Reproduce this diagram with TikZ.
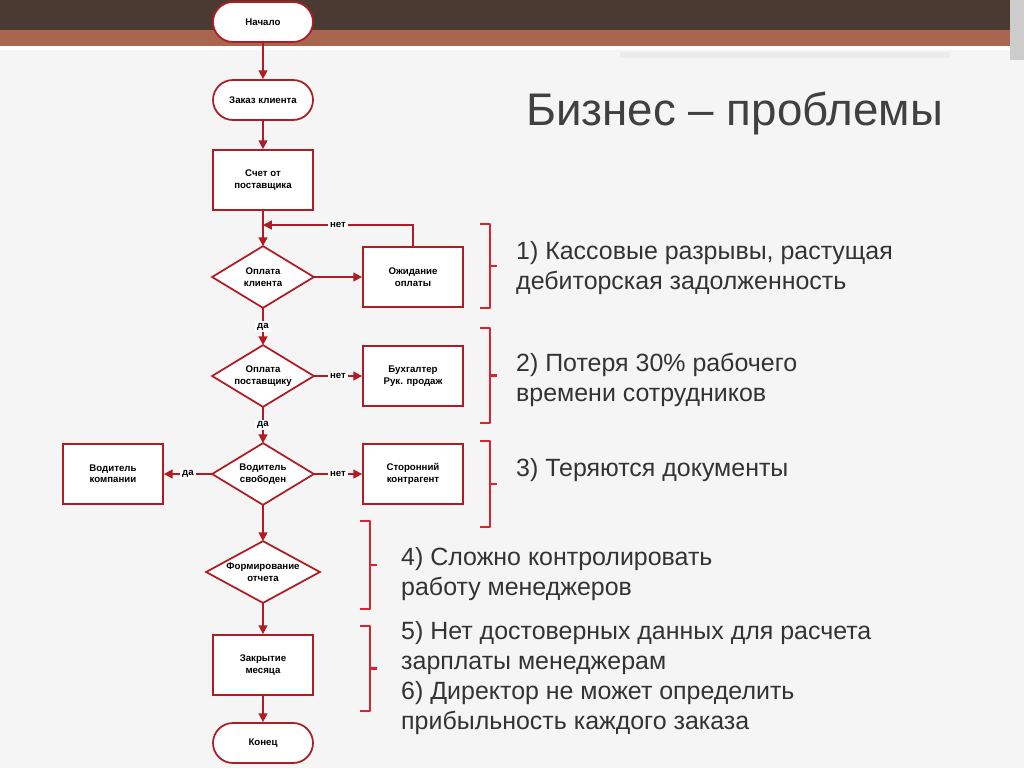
\documentclass[tikz,border=0pt]{standalone}
\usepackage{fontspec}
\setmainfont{Liberation Sans}
\usetikzlibrary{arrows.meta,backgrounds}
\definecolor{flowred}{HTML}{B01C24}
\definecolor{bracered}{HTML}{D9232E}
\definecolor{bandbrown}{HTML}{4B3A31}
\definecolor{bandred}{HTML}{A9654F}
\tikzset{
  box/.style={draw=flowred,line width=1pt,fill=white,minimum width=2cm,minimum height=1.2cm,align=center,font=\fontsize{5.5}{6.5}\selectfont\bfseries},
  term/.style={box,rounded corners=0.4cm,minimum height=0.8cm},
  choice/.style={box,draw=none,fill=none,inner sep=0pt},
  flow/.style={draw=flowred,line width=1pt,-{Triangle[length=5pt,width=5pt]}},
  lbl/.style={font=\fontsize{5.5}{6.5}\selectfont\bfseries,fill=white,inner sep=1pt},
  issue/.style={anchor=west,align=left,font=\fontsize{14.2}{17}\selectfont,text=black!80},
  brace/.style={draw=bracered,line width=1.6pt,line join=round}
}
\newcommand{\issuebrace}[3]{% x, top, bottom
  \draw[brace] (#1-10,#2) -- (#1,#2) -- (#1,#3) -- (#1-10,#3);
  \draw[brace] (#1,{(#2+#3)/2}) -- (#1+7,{(#2+#3)/2});
}
\begin{document}
\begin{tikzpicture}[x=0.02cm,y=-0.02cm]
  % slide background
  \begin{scope}[on background layer]
  \fill[gray!8] (0,0) rectangle (1024,768);
  \fill[bandbrown] (0,0) rectangle (1024,30);
  \fill[bandred] (0,30) rectangle (1010,46);
  \fill[white] (0,46) rectangle (1010,50);
  \fill[white!85!gray] (620,52) rectangle (950,58);
  \fill[gray!40] (1010,0) rectangle (1024,60);
  \end{scope}
  \node[anchor=west,font=\fontsize{26}{30}\selectfont,text=black!75] (title) at (520,113) {Бизнес – проблемы};

  % flow chart
  \node[term] (start) at (263,22) {Начало};
  \node[term] (order) at (263,100) {Заказ клиента};
  \node[box] (invoice) at (263,180) {Счет от\\поставщика};
  \node[choice] (paycl) at (263,277) {Оплата\\клиента};
  \node[box] (wait) at (413,277) {Ожидание\\оплаты};
  \node[choice] (paysup) at (263,376) {Оплата\\поставщику};
  \node[box] (acct) at (413,376) {Бухгалтер\\Рук. продаж};
  \node[choice] (driver) at (263,474) {Водитель\\свободен};
  \node[box] (ext) at (413,474) {Сторонний\\контрагент};
  \node[box] (own) at (113,474) {Водитель\\компании};
  \node[choice,minimum width=2.24cm] (report) at (263,572) {Формирование\\отчета};
  \node[box] (close) at (263,665) {Закрытие\\месяца};
  \node[term] (finish) at (263,743) {Конец};
  \coordinate (loop) at (263,225);
  \begin{scope}[on background layer]
  \foreach \d in {paycl,paysup,driver,report}
    \draw[draw=flowred,line width=1pt,fill=white] (\d.north) -- (\d.east) -- (\d.south) -- (\d.west) -- cycle;
  \end{scope}

  \draw[flow] (start) -- (order);
  \draw[flow] (order) -- (invoice);
  \draw[flow] (invoice) -- (paycl);
  \draw[flow] (paycl) -- (wait);
  \draw[flow] (wait.north) |- node[lbl,pos=0.75] {нет} (loop);
  \draw[flow] (paycl) -- node[lbl] {да} (paysup);
  \draw[flow] (paysup) -- node[lbl] {нет} (acct);
  \draw[flow] (paysup) -- node[lbl] {да} (driver);
  \draw[flow] (driver) -- node[lbl] {нет} (ext);
  \draw[flow] (driver) -- node[lbl] {да} (own);
  \draw[flow] (driver) -- (report);
  \draw[flow] (report) -- (close);
  \draw[flow] (close) -- (finish);

  % problems
  \issuebrace{490}{224}{308}
  \issuebrace{490}{328}{423}
  \issuebrace{490}{441}{527}
  \issuebrace{370}{521}{609}
  \issuebrace{370}{626}{711}
  \node[issue] (p1) at (510,268) {1) Кассовые разрывы, растущая\\дебиторская задолженность};
  \node[issue] (p2) at (510,380) {2) Потеря 30\% рабочего\\времени сотрудников};
  \node[issue] (p3) at (510,470) {3) Теряются документы};
  \node[issue] (p4) at (395,574) {4) Сложно контролировать\\работу менеджеров};
  \node[issue] (p5) at (395,678) {5) Нет достоверных данных для расчета\\зарплаты менеджерам\\6) Директор не может определить\\прибыльность каждого заказа};
\end{tikzpicture}
\end{document}
